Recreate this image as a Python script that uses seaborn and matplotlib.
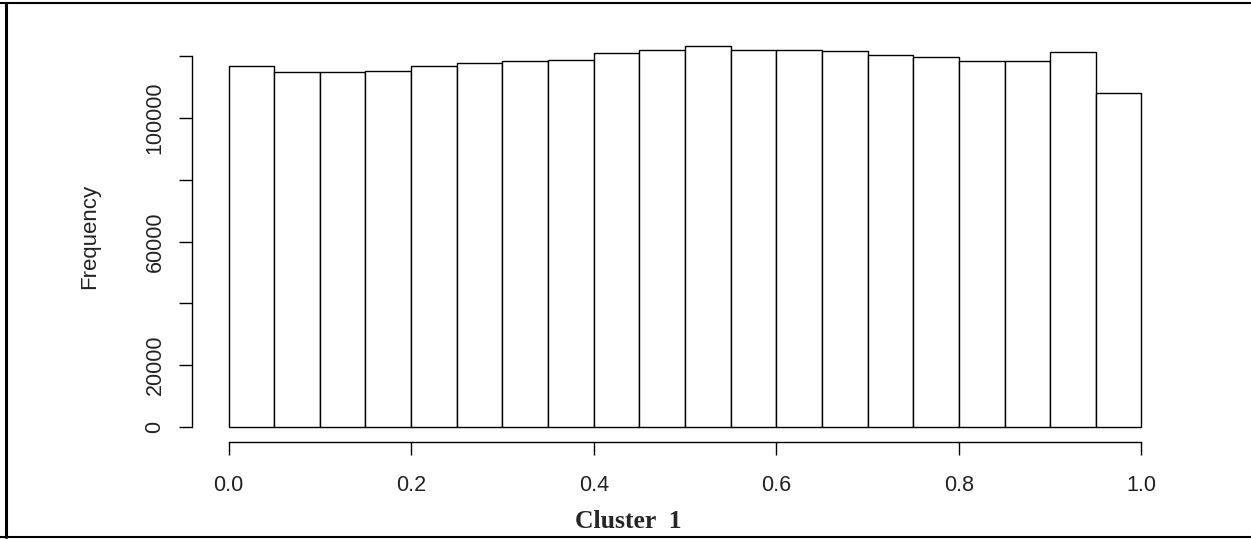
import numpy as np
import pandas as pd
import matplotlib
matplotlib.use("Agg")
import matplotlib.pyplot as plt
import seaborn as sns
from matplotlib.lines import Line2D

# Data
bin_edges = [round(0.05 * i, 2) for i in range(21)]
counts = [116900, 114900, 114900, 115400, 116800, 117800, 118500, 118900,
          121200, 122200, 123300, 122200, 122200, 121800, 120500, 119900,
          118500, 118500, 121300, 108200]
x_ticks = [0.0, 0.2, 0.4, 0.6, 0.8, 1.0]
x_tick_labels = ["0.0", "0.2", "0.4", "0.6", "0.8", "1.0"]
y_ticks = [0, 20000, 40000, 60000, 80000, 100000, 120000]
y_tick_labels = ["0", "20000", "", "60000", "", "100000", ""]

sns.set_theme(style="white")
plt.rcParams['font.family'] = ['Liberation Sans', 'DejaVu Sans']

centers = [(bin_edges[i] + bin_edges[i + 1]) / 2 for i in range(len(counts))]
df = pd.DataFrame({"value": centers, "count": counts})

W, H = 1251, 539
fig = plt.figure(figsize=(W / 100, H / 100), dpi=100)
ax = fig.add_axes([192 / W, (H - 442) / H, (1178 - 192) / W, 411 / H])

sns.histplot(data=df, x="value", weights="count", bins=bin_edges, ax=ax,
             color="white", edgecolor="black", linewidth=1.0, alpha=1.0)

ymax = max(counts)
ax.set_xlim(-0.04, 1.04)
ax.set_ylim(-0.04 * ymax, 1.04 * ymax)

for s in ["top", "right"]:
    ax.spines[s].set_visible(False)
ax.spines["left"].set_bounds(0, 120000)
ax.spines["bottom"].set_bounds(0, 1)
for s in ["left", "bottom"]:
    ax.spines[s].set_color("black")
    ax.spines[s].set_linewidth(1.0)

ax.set_xticks(x_ticks)
ax.set_xticklabels(x_tick_labels, fontsize=15.5, color="#222222")
ax.set_yticks(y_ticks)
ax.set_yticklabels(y_tick_labels, fontsize=15.5, color="#222222",
                   rotation=90, va="center")
ax.tick_params(axis="both", direction="out", length=9.5, width=1.0,
               color="black", left=True, bottom=True)
ax.tick_params(axis="x", pad=14)
ax.tick_params(axis="y", pad=9.5)

ax.set_xlabel("")
ax.set_ylabel("Frequency", fontsize=16, color="#222222")
ax.yaxis.set_label_coords((100 - 192) / (1178 - 192), 0.5)

fig.text(628 / W, 1 - 522 / H, "Cluster  1", ha="center", va="center",
         fontsize=18.5, fontweight="bold", family=["Liberation Serif", "DejaVu Serif"])

# Outer frame lines
fig.add_artist(Line2D([0, 1], [1 - 2.5 / H, 1 - 2.5 / H], color="black", lw=1.5,
                      transform=fig.transFigure))
fig.add_artist(Line2D([0, 1], [1 - 536.5 / H, 1 - 536.5 / H], color="black", lw=1.5,
                      transform=fig.transFigure))
fig.add_artist(Line2D([6 / W, 6 / W], [1 - 2.5 / H, 1 - 536.5 / H], color="black", lw=2.2,
                      transform=fig.transFigure))

fig.savefig("out.png", dpi=100, facecolor="white")
